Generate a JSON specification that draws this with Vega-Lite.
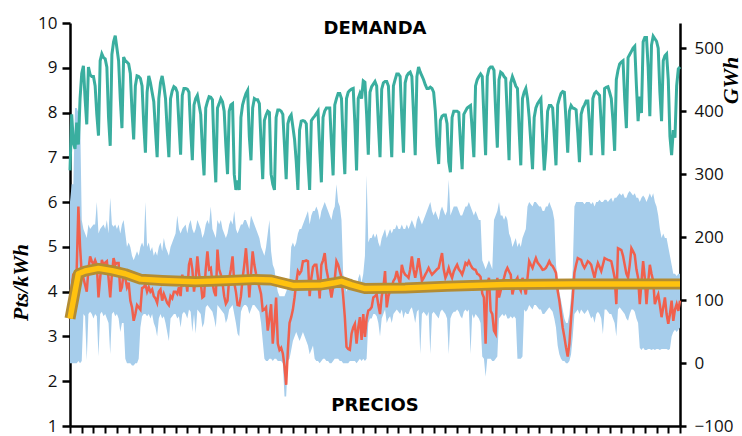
{
"$schema":"https://vega.github.io/schema/vega-lite/v6.json",
"width":610,"height":403,
"autosize":{"type":"none"},
"padding":{"left":70,"top":23,"right":62,"bottom":10},
"background":"white",
"config":{"view":{"stroke":null},"axis":{"grid":false}},
"datasets":{
"days":[
{"d":0,"g":306,"p":3.4,"l":2.4,"h":6.0},{"d":1,"g":395,"p":4.1,"l":2.4,"h":6.4},{"d":2,"g":350,"p":4.4,"l":2.4,"h":6.4},{"d":3,"g":340,"p":4.3,"l":2.4,"h":8.1},{"d":4,"g":382,"p":4.5,"l":2.4,"h":8.1},{"d":5,"g":347,"p":5.9,"l":2.45,"h":8.0},{"d":6,"g":420,"p":5.0,"l":2.4,"h":8.0},
{"d":7,"g":460,"p":4.4,"l":2.45,"h":5.6},{"d":8,"g":472,"p":4.3,"l":3.5,"h":5.4},{"d":9,"g":420,"p":4.15,"l":3.45,"h":5.3},{"d":10,"g":379,"p":4.0,"l":2.47,"h":5.2},
{"d":11,"g":470,"p":4.5,"l":3.5,"h":5.5},{"d":12,"g":458,"p":4.79,"l":3.55,"h":5.4},{"d":13,"g":455,"p":4.68,"l":3.5,"h":5.45},{"d":14,"g":455,"p":4.6,"l":3.4,"h":5.5},{"d":15,"g":440,"p":4.7,"l":3.5,"h":5.5},{"d":16,"g":395,"p":4.6,"l":3.45,"h":6.0},{"d":17,"g":361,"p":3.87,"l":2.55,"h":5.3},
{"d":18,"g":480,"p":4.3,"l":3.5,"h":5.4},{"d":19,"g":491,"p":4.71,"l":3.55,"h":5.45},{"d":20,"g":485,"p":4.6,"l":3.45,"h":5.5},{"d":21,"g":483,"p":4.65,"l":3.5,"h":5.4},{"d":22,"g":470,"p":4.68,"l":3.4,"h":5.6},{"d":23,"g":390,"p":4.3,"l":3.3,"h":5.3},{"d":24,"g":345,"p":3.87,"l":2.6,"h":6.1},
{"d":25,"g":490,"p":4.4,"l":3.5,"h":5.5},{"d":26,"g":510,"p":4.75,"l":3.55,"h":5.45},{"d":27,"g":520,"p":4.6,"l":3.45,"h":5.5},{"d":28,"g":500,"p":4.64,"l":3.5,"h":5.4},{"d":29,"g":480,"p":4.64,"l":3.4,"h":5.5},{"d":30,"g":420,"p":4.0,"l":3.1,"h":5.3},{"d":31,"g":373,"p":4.1,"l":3.3,"h":5.5},
{"d":32,"g":486,"p":4.42,"l":3.3,"h":5.6},{"d":33,"g":480,"p":4.3,"l":2.5,"h":5.3},{"d":34,"g":478,"p":4.1,"l":2.4,"h":5.0},{"d":35,"g":475,"p":4.2,"l":2.4,"h":5.1},{"d":36,"g":460,"p":3.8,"l":2.4,"h":5.0},{"d":37,"g":400,"p":3.65,"l":2.35,"h":4.8},{"d":38,"g":355,"p":3.35,"l":2.35,"h":4.7},
{"d":39,"g":440,"p":3.5,"l":2.4,"h":4.8},{"d":40,"g":456,"p":3.7,"l":2.4,"h":4.9},{"d":41,"g":455,"p":3.65,"l":2.5,"h":4.8},{"d":42,"g":452,"p":3.6,"l":3.2,"h":5.0},{"d":43,"g":440,"p":4.08,"l":3.45,"h":5.1},{"d":44,"g":380,"p":4.1,"l":3.5,"h":5.0},{"d":45,"g":334,"p":4.16,"l":3.5,"h":6.0},
{"d":46,"g":430,"p":4.0,"l":3.45,"h":5.0},{"d":47,"g":456,"p":4.1,"l":3.5,"h":5.1},{"d":48,"g":445,"p":4.0,"l":3.4,"h":4.9},{"d":49,"g":430,"p":4.05,"l":3.5,"h":5.0},{"d":50,"g":415,"p":3.9,"l":3.3,"h":4.8},{"d":51,"g":370,"p":3.85,"l":3.2,"h":4.9},{"d":52,"g":327,"p":3.75,"l":3.0,"h":4.8},
{"d":53,"g":420,"p":4.0,"l":3.4,"h":5.0},{"d":54,"g":445,"p":4.05,"l":3.5,"h":5.1},{"d":55,"g":456,"p":3.8,"l":3.4,"h":4.9},{"d":56,"g":440,"p":3.95,"l":3.45,"h":5.2},{"d":57,"g":420,"p":3.85,"l":3.3,"h":5.0},{"d":58,"g":370,"p":3.75,"l":3.1,"h":4.9},{"d":59,"g":327,"p":3.7,"l":2.9,"h":4.8},
{"d":60,"g":420,"p":3.9,"l":3.4,"h":5.0},{"d":61,"g":432,"p":3.85,"l":3.45,"h":5.1},{"d":62,"g":439,"p":4.0,"l":3.5,"h":5.2},{"d":63,"g":437,"p":4.0,"l":3.5,"h":5.3},{"d":64,"g":430,"p":3.95,"l":3.4,"h":5.7},{"d":65,"g":380,"p":4.1,"l":3.45,"h":5.4},{"d":66,"g":331,"p":3.9,"l":3.2,"h":5.3},
{"d":67,"g":425,"p":4.38,"l":3.5,"h":5.4},{"d":68,"g":436,"p":4.2,"l":3.55,"h":5.45},{"d":69,"g":436,"p":4.31,"l":3.5,"h":5.5},{"d":70,"g":435,"p":4.0,"l":3.4,"h":5.3},{"d":71,"g":430,"p":4.6,"l":3.6,"h":5.5},{"d":72,"g":370,"p":4.75,"l":3.55,"h":5.6},{"d":73,"g":322,"p":4.5,"l":3.1,"h":5.4},
{"d":74,"g":410,"p":4.0,"l":3.5,"h":5.3},{"d":75,"g":420,"p":4.3,"l":3.06,"h":5.4},{"d":76,"g":425,"p":4.79,"l":3.6,"h":5.6},{"d":77,"g":410,"p":4.4,"l":3.55,"h":5.5},{"d":78,"g":395,"p":4.2,"l":3.5,"h":5.4},{"d":79,"g":340,"p":3.87,"l":3.2,"h":5.2},{"d":80,"g":298,"p":3.9,"l":3.3,"h":5.3},
{"d":81,"g":405,"p":4.5,"l":3.65,"h":5.5},{"d":82,"g":415,"p":4.9,"l":3.7,"h":5.6},{"d":83,"g":423,"p":4.5,"l":3.65,"h":5.5},{"d":84,"g":422,"p":4.53,"l":3.6,"h":5.9},{"d":85,"g":418,"p":4.2,"l":3.55,"h":5.4},{"d":86,"g":340,"p":4.0,"l":3.4,"h":5.3},{"d":87,"g":287,"p":3.9,"l":3.2,"h":5.2},
{"d":88,"g":405,"p":4.94,"l":3.7,"h":5.6},{"d":89,"g":412,"p":4.5,"l":3.65,"h":5.5},{"d":90,"g":420,"p":4.38,"l":3.6,"h":5.6},{"d":91,"g":415,"p":4.2,"l":3.55,"h":5.4},{"d":92,"g":400,"p":3.9,"l":3.5,"h":5.3},{"d":93,"g":345,"p":3.73,"l":3.3,"h":5.2},{"d":94,"g":300,"p":3.8,"l":3.4,"h":5.3},
{"d":95,"g":400,"p":4.3,"l":3.6,"h":5.5},{"d":96,"g":410,"p":4.5,"l":3.65,"h":5.6},{"d":97,"g":412,"p":4.79,"l":3.7,"h":5.5},{"d":98,"g":300,"p":4.2,"l":3.5,"h":5.8},{"d":99,"g":275,"p":4.0,"l":3.3,"h":5.4},{"d":100,"g":290,"p":3.7,"l":3.06,"h":5.3},{"d":101,"g":275,"p":3.69,"l":3.0,"h":5.4},
{"d":102,"g":390,"p":3.9,"l":3.55,"h":5.5},{"d":103,"g":410,"p":4.3,"l":3.65,"h":5.5},{"d":104,"g":420,"p":4.6,"l":3.7,"h":5.6},{"d":105,"g":428,"p":4.97,"l":3.7,"h":5.6},{"d":106,"g":433,"p":4.5,"l":3.65,"h":5.5},{"d":107,"g":360,"p":3.87,"l":3.5,"h":5.4},{"d":108,"g":322,"p":4.4,"l":3.6,"h":5.7},
{"d":109,"g":405,"p":4.9,"l":3.7,"h":5.6},{"d":110,"g":420,"p":4.6,"l":3.7,"h":5.5},{"d":111,"g":418,"p":4.4,"l":3.65,"h":5.4},{"d":112,"g":418,"p":4.24,"l":3.6,"h":5.3},{"d":113,"g":412,"p":4.1,"l":3.55,"h":5.2},{"d":114,"g":350,"p":3.95,"l":3.3,"h":5.0},{"d":115,"g":292,"p":3.58,"l":2.9,"h":4.9},
{"d":116,"g":385,"p":3.6,"l":2.5,"h":4.8},{"d":117,"g":394,"p":3.65,"l":2.45,"h":5.0},{"d":118,"g":400,"p":3.13,"l":2.45,"h":5.3},{"d":119,"g":398,"p":3.4,"l":2.5,"h":5.6},{"d":120,"g":300,"p":3.72,"l":2.5,"h":4.9},{"d":121,"g":284,"p":2.84,"l":2.45,"h":4.6},{"d":122,"g":275,"p":3.3,"l":2.5,"h":4.5},
{"d":123,"g":390,"p":3.87,"l":2.5,"h":4.2},{"d":124,"g":402,"p":2.84,"l":2.45,"h":4.0},{"d":125,"g":402,"p":2.7,"l":2.45,"h":3.9},{"d":126,"g":400,"p":2.75,"l":2.45,"h":3.9},{"d":127,"g":395,"p":2.62,"l":2.4,"h":3.9},{"d":128,"g":345,"p":2.33,"l":1.66,"h":3.9},{"d":129,"g":292,"p":1.92,"l":1.66,"h":4.0},
{"d":130,"g":380,"p":2.7,"l":2.45,"h":4.1},{"d":131,"g":390,"p":3.3,"l":2.5,"h":4.3},{"d":132,"g":394,"p":3.43,"l":2.7,"h":5.0},{"d":133,"g":375,"p":3.6,"l":2.9,"h":5.1},{"d":134,"g":355,"p":3.87,"l":3.0,"h":5.0},{"d":135,"g":320,"p":4.2,"l":3.1,"h":5.1},{"d":136,"g":275,"p":4.46,"l":3.0,"h":5.3},
{"d":137,"g":370,"p":4.4,"l":2.9,"h":5.4},{"d":138,"g":384,"p":4.46,"l":3.0,"h":5.4},{"d":139,"g":385,"p":4.68,"l":3.1,"h":5.5},{"d":140,"g":384,"p":4.68,"l":3.0,"h":5.6},{"d":141,"g":380,"p":4.7,"l":2.9,"h":5.7},{"d":142,"g":320,"p":4.68,"l":2.8,"h":5.8},{"d":143,"g":275,"p":3.9,"l":2.6,"h":5.5},
{"d":144,"g":385,"p":4.3,"l":2.7,"h":5.7},{"d":145,"g":389,"p":4.55,"l":2.8,"h":5.8},{"d":146,"g":392,"p":4.6,"l":2.5,"h":5.8},{"d":147,"g":396,"p":4.6,"l":2.45,"h":5.9},{"d":148,"g":400,"p":4.3,"l":2.45,"h":5.8},{"d":149,"g":340,"p":3.85,"l":2.4,"h":5.6},{"d":150,"g":287,"p":4.6,"l":2.45,"h":5.8},
{"d":151,"g":390,"p":4.7,"l":2.5,"h":5.9},{"d":152,"g":400,"p":4.86,"l":2.5,"h":6.0},{"d":153,"g":405,"p":4.5,"l":2.45,"h":5.9},{"d":154,"g":405,"p":4.31,"l":2.45,"h":5.8},{"d":155,"g":405,"p":4.1,"l":2.4,"h":5.7},{"d":156,"g":350,"p":3.87,"l":2.4,"h":5.6},{"d":157,"g":298,"p":4.1,"l":2.45,"h":5.8},
{"d":158,"g":410,"p":4.28,"l":2.5,"h":5.9},{"d":159,"g":420,"p":4.68,"l":2.5,"h":6.4},{"d":160,"g":428,"p":4.6,"l":2.5,"h":6.0},{"d":161,"g":428,"p":4.46,"l":2.45,"h":5.9},{"d":162,"g":420,"p":4.31,"l":2.45,"h":5.6},{"d":163,"g":350,"p":3.9,"l":2.4,"h":4.4},{"d":164,"g":300,"p":3.43,"l":2.4,"h":4.2},
{"d":165,"g":420,"p":2.77,"l":2.4,"h":4.0},{"d":166,"g":430,"p":2.72,"l":2.4,"h":4.1},{"d":167,"g":433,"p":2.7,"l":2.45,"h":4.2},{"d":168,"g":435,"p":3.06,"l":2.45,"h":4.3},{"d":169,"g":436,"p":3.2,"l":2.45,"h":4.1},{"d":170,"g":380,"p":3.28,"l":2.45,"h":4.2},{"d":171,"g":306,"p":2.84,"l":2.4,"h":4.0},
{"d":172,"g":420,"p":3.2,"l":2.45,"h":4.3},{"d":173,"g":428,"p":3.43,"l":2.5,"h":4.4},{"d":174,"g":420,"p":2.92,"l":2.45,"h":4.2},{"d":175,"g":448,"p":3.5,"l":2.5,"h":4.4},{"d":176,"g":446,"p":2.99,"l":2.45,"h":4.8},{"d":177,"g":395,"p":3.4,"l":2.5,"h":6.6},{"d":178,"g":331,"p":3.58,"l":3.3,"h":5.1},
{"d":179,"g":430,"p":3.6,"l":3.4,"h":5.2},{"d":180,"g":439,"p":3.65,"l":3.4,"h":5.2},{"d":181,"g":443,"p":3.87,"l":3.5,"h":5.3},{"d":182,"g":447,"p":3.9,"l":3.5,"h":5.2},{"d":183,"g":440,"p":3.94,"l":3.45,"h":5.3},{"d":184,"g":380,"p":3.7,"l":3.3,"h":5.1},{"d":185,"g":327,"p":3.5,"l":3.0,"h":5.0},
{"d":186,"g":435,"p":3.9,"l":3.4,"h":5.2},{"d":187,"g":445,"p":4.09,"l":3.5,"h":5.3},{"d":188,"g":447,"p":4.46,"l":3.6,"h":5.4},{"d":189,"g":447,"p":3.65,"l":3.3,"h":5.2},{"d":190,"g":440,"p":3.9,"l":3.4,"h":5.3},{"d":191,"g":380,"p":4.02,"l":3.45,"h":5.4},{"d":192,"g":327,"p":4.1,"l":3.3,"h":5.3},
{"d":193,"g":440,"p":4.24,"l":3.5,"h":5.4},{"d":194,"g":450,"p":4.3,"l":3.55,"h":5.4},{"d":195,"g":459,"p":4.46,"l":3.6,"h":5.5},{"d":196,"g":459,"p":4.3,"l":3.55,"h":5.4},{"d":197,"g":455,"p":4.16,"l":3.5,"h":5.4},{"d":198,"g":390,"p":4.6,"l":3.6,"h":5.5},{"d":199,"g":334,"p":4.45,"l":3.4,"h":5.4},
{"d":200,"g":445,"p":4.38,"l":3.55,"h":5.4},{"d":201,"g":456,"p":4.35,"l":3.5,"h":5.5},{"d":202,"g":460,"p":4.31,"l":3.5,"h":5.4},{"d":203,"g":462,"p":4.5,"l":3.6,"h":5.5},{"d":204,"g":455,"p":4.79,"l":3.65,"h":5.6},{"d":205,"g":395,"p":4.5,"l":3.5,"h":5.5},{"d":206,"g":330,"p":4.31,"l":3.3,"h":5.4},
{"d":207,"g":455,"p":4.5,"l":3.55,"h":5.6},{"d":208,"g":470,"p":4.75,"l":3.6,"h":5.7},{"d":209,"g":462,"p":4.5,"l":2.6,"h":5.6},{"d":210,"g":456,"p":4.24,"l":3.5,"h":5.5},{"d":211,"g":450,"p":4.3,"l":3.55,"h":5.6},{"d":212,"g":442,"p":4.38,"l":3.5,"h":5.7},{"d":213,"g":436,"p":4.45,"l":3.45,"h":5.8},
{"d":214,"g":436,"p":4.53,"l":3.55,"h":5.9},{"d":215,"g":438,"p":4.45,"l":2.6,"h":6.0},{"d":216,"g":436,"p":4.38,"l":3.5,"h":5.8},{"d":217,"g":430,"p":4.42,"l":3.55,"h":5.7},{"d":218,"g":400,"p":4.46,"l":3.5,"h":5.8},{"d":219,"g":345,"p":4.5,"l":3.45,"h":5.7},{"d":220,"g":316,"p":4.53,"l":3.4,"h":5.6},
{"d":221,"g":385,"p":4.7,"l":3.55,"h":5.8},{"d":222,"g":392,"p":4.86,"l":3.6,"h":5.9},{"d":223,"g":394,"p":4.5,"l":3.55,"h":5.8},{"d":224,"g":394,"p":4.31,"l":3.5,"h":5.7},{"d":225,"g":380,"p":4.4,"l":3.4,"h":5.8},{"d":226,"g":320,"p":4.53,"l":2.6,"h":6.5},{"d":227,"g":303,"p":4.4,"l":3.4,"h":5.7},
{"d":228,"g":390,"p":4.31,"l":3.5,"h":5.8},{"d":229,"g":400,"p":4.45,"l":3.55,"h":5.9},{"d":230,"g":400,"p":4.53,"l":3.55,"h":5.9},{"d":231,"g":400,"p":4.6,"l":3.6,"h":5.9},{"d":232,"g":398,"p":4.5,"l":3.55,"h":5.8},{"d":233,"g":350,"p":4.45,"l":3.45,"h":5.7},{"d":234,"g":308,"p":4.38,"l":3.4,"h":5.7},
{"d":235,"g":395,"p":4.5,"l":3.55,"h":5.8},{"d":236,"g":400,"p":4.64,"l":3.6,"h":5.9},{"d":237,"g":405,"p":4.6,"l":3.55,"h":5.9},{"d":238,"g":407,"p":4.68,"l":3.6,"h":6.0},{"d":239,"g":409,"p":4.6,"l":2.6,"h":5.9},{"d":240,"g":370,"p":4.53,"l":3.5,"h":5.8},{"d":241,"g":327,"p":4.5,"l":3.4,"h":5.7},
{"d":242,"g":440,"p":4.49,"l":3.5,"h":5.8},{"d":243,"g":450,"p":4.4,"l":3.45,"h":5.7},{"d":244,"g":455,"p":4.38,"l":3.4,"h":5.6},{"d":245,"g":459,"p":4.33,"l":3.3,"h":5.6},{"d":246,"g":455,"p":3.96,"l":2.55,"h":4.7},{"d":247,"g":390,"p":3.87,"l":2.5,"h":4.6},{"d":248,"g":330,"p":2.84,"l":2.1,"h":4.5},
{"d":249,"g":455,"p":4.16,"l":2.5,"h":4.6},{"d":250,"g":467,"p":4.31,"l":2.5,"h":4.7},{"d":251,"g":470,"p":3.57,"l":2.5,"h":4.6},{"d":252,"g":470,"p":3.5,"l":2.45,"h":4.5},{"d":253,"g":465,"p":3.13,"l":2.45,"h":5.6},{"d":254,"g":400,"p":3.06,"l":2.5,"h":5.7},{"d":255,"g":342,"p":4.31,"l":2.55,"h":5.8},
{"d":256,"g":450,"p":3.87,"l":3.4,"h":6.0},{"d":257,"g":462,"p":4.02,"l":3.45,"h":5.7},{"d":258,"g":460,"p":4.2,"l":3.5,"h":5.7},{"d":259,"g":455,"p":4.31,"l":3.45,"h":5.6},{"d":260,"g":452,"p":4.45,"l":3.5,"h":5.7},{"d":261,"g":390,"p":4.53,"l":3.4,"h":5.6},{"d":262,"g":322,"p":4.45,"l":3.4,"h":5.3},
{"d":263,"g":445,"p":4.38,"l":3.45,"h":5.2},{"d":264,"g":455,"p":3.94,"l":3.4,"h":5.0},{"d":265,"g":448,"p":4.1,"l":3.45,"h":5.1},{"d":266,"g":440,"p":4.25,"l":3.4,"h":5.2},{"d":267,"g":436,"p":4.31,"l":2.5,"h":5.0},{"d":268,"g":370,"p":4.1,"l":2.5,"h":5.1},{"d":269,"g":314,"p":4.02,"l":2.5,"h":5.0},
{"d":270,"g":420,"p":4.31,"l":2.55,"h":5.2},{"d":271,"g":430,"p":4.1,"l":3.6,"h":5.3},{"d":272,"g":436,"p":3.94,"l":3.55,"h":5.4},{"d":273,"g":420,"p":4.3,"l":3.6,"h":5.9},{"d":274,"g":390,"p":4.68,"l":3.7,"h":6.0},{"d":275,"g":350,"p":4.6,"l":3.65,"h":5.95},{"d":276,"g":308,"p":4.53,"l":3.6,"h":5.9},
{"d":277,"g":390,"p":4.65,"l":3.7,"h":6.0},{"d":278,"g":405,"p":4.75,"l":3.7,"h":6.0},{"d":279,"g":412,"p":4.65,"l":3.65,"h":5.95},{"d":280,"g":416,"p":4.6,"l":3.6,"h":5.9},{"d":281,"g":420,"p":4.55,"l":3.6,"h":5.9},{"d":282,"g":360,"p":4.49,"l":3.5,"h":5.8},{"d":283,"g":306,"p":4.5,"l":3.5,"h":5.8},
{"d":284,"g":340,"p":4.53,"l":3.55,"h":5.9},{"d":285,"g":400,"p":4.6,"l":3.6,"h":5.9},{"d":286,"g":409,"p":4.68,"l":3.65,"h":6.0},{"d":287,"g":409,"p":4.6,"l":3.6,"h":5.9},{"d":288,"g":405,"p":4.57,"l":3.55,"h":5.8},{"d":289,"g":360,"p":4.5,"l":3.4,"h":5.6},{"d":290,"g":314,"p":4.42,"l":3.2,"h":4.6},
{"d":291,"g":410,"p":4.02,"l":2.8,"h":4.3},{"d":292,"g":420,"p":3.8,"l":2.6,"h":4.0},{"d":293,"g":428,"p":3.5,"l":2.5,"h":3.8},{"d":294,"g":431,"p":3.2,"l":2.45,"h":3.6},{"d":295,"g":430,"p":2.99,"l":2.45,"h":3.4},{"d":296,"g":385,"p":2.75,"l":2.4,"h":3.3},{"d":297,"g":334,"p":2.55,"l":2.4,"h":3.3},
{"d":298,"g":400,"p":2.84,"l":2.45,"h":3.5},{"d":299,"g":409,"p":3.4,"l":2.6,"h":3.9},{"d":300,"g":405,"p":3.87,"l":3.0,"h":4.5},{"d":301,"g":404,"p":4.42,"l":3.5,"h":5.9},{"d":302,"g":402,"p":4.6,"l":3.55,"h":6.0},{"d":303,"g":365,"p":4.75,"l":3.6,"h":6.0},{"d":304,"g":319,"p":4.73,"l":3.5,"h":6.0},
{"d":305,"g":395,"p":4.71,"l":3.6,"h":6.0},{"d":306,"g":405,"p":4.6,"l":3.55,"h":6.0},{"d":307,"g":410,"p":4.53,"l":3.5,"h":5.95},{"d":308,"g":416,"p":4.6,"l":3.55,"h":6.0},{"d":309,"g":416,"p":4.68,"l":3.6,"h":6.0},{"d":310,"g":380,"p":4.65,"l":3.5,"h":6.0},{"d":311,"g":330,"p":4.6,"l":3.4,"h":5.95},
{"d":312,"g":420,"p":4.45,"l":3.45,"h":6.0},{"d":313,"g":428,"p":4.31,"l":3.3,"h":5.9},{"d":314,"g":431,"p":4.5,"l":3.5,"h":6.0},{"d":315,"g":428,"p":4.64,"l":3.55,"h":6.0},{"d":316,"g":425,"p":4.55,"l":3.5,"h":6.05},{"d":317,"g":380,"p":4.46,"l":3.4,"h":6.0},{"d":318,"g":330,"p":4.6,"l":3.05,"h":6.0},
{"d":319,"g":436,"p":4.75,"l":3.6,"h":6.05},{"d":320,"g":438,"p":4.73,"l":3.6,"h":6.05},{"d":321,"g":439,"p":4.71,"l":3.55,"h":6.0},{"d":322,"g":430,"p":4.7,"l":3.5,"h":6.05},{"d":323,"g":420,"p":4.68,"l":3.5,"h":6.1},{"d":324,"g":385,"p":4.5,"l":3.4,"h":6.0},{"d":325,"g":337,"p":4.31,"l":3.3,"h":6.1},
{"d":326,"g":450,"p":3.72,"l":3.0,"h":6.1},{"d":327,"g":465,"p":4.97,"l":3.6,"h":6.15},{"d":328,"g":475,"p":4.95,"l":3.65,"h":6.2},{"d":329,"g":478,"p":4.93,"l":3.6,"h":6.15},{"d":330,"g":480,"p":4.8,"l":3.55,"h":6.2},{"d":331,"g":420,"p":4.6,"l":3.5,"h":6.1},{"d":332,"g":373,"p":4.4,"l":3.4,"h":6.1},
{"d":333,"g":485,"p":4.31,"l":3.35,"h":6.2},{"d":334,"g":490,"p":4.6,"l":3.5,"h":6.25},{"d":335,"g":495,"p":4.97,"l":3.6,"h":6.2},{"d":336,"g":500,"p":4.9,"l":3.6,"h":6.15},{"d":337,"g":503,"p":4.82,"l":3.55,"h":6.2},{"d":338,"g":440,"p":4.5,"l":3.4,"h":6.1},{"d":339,"g":384,"p":4.31,"l":3.3,"h":6.1},
{"d":340,"g":423,"p":3.72,"l":2.75,"h":6.0},{"d":341,"g":397,"p":4.2,"l":2.7,"h":6.1},{"d":342,"g":510,"p":4.68,"l":2.75,"h":6.15},{"d":343,"g":517,"p":4.31,"l":2.7,"h":6.1},{"d":344,"g":517,"p":3.72,"l":2.7,"h":6.0},{"d":345,"g":470,"p":4.2,"l":2.72,"h":6.1},{"d":346,"g":392,"p":4.6,"l":2.72,"h":6.2},
{"d":347,"g":505,"p":4.4,"l":2.7,"h":6.1},{"d":348,"g":519,"p":4.24,"l":2.72,"h":6.2},{"d":349,"g":515,"p":3.72,"l":2.7,"h":6.0},{"d":350,"g":511,"p":3.85,"l":2.72,"h":5.9},{"d":351,"g":500,"p":3.94,"l":2.72,"h":5.7},{"d":352,"g":430,"p":3.7,"l":2.7,"h":5.4},{"d":353,"g":384,"p":3.43,"l":2.72,"h":5.2},
{"d":354,"g":480,"p":3.65,"l":2.72,"h":5.3},{"d":355,"g":488,"p":3.87,"l":2.72,"h":5.2},{"d":356,"g":491,"p":3.5,"l":2.72,"h":5.2},{"d":357,"g":450,"p":3.28,"l":2.7,"h":5.0},{"d":358,"g":360,"p":3.5,"l":2.72,"h":4.8},{"d":359,"g":330,"p":3.8,"l":3.0,"h":4.6},{"d":360,"g":370,"p":3.35,"l":3.1,"h":4.4},
{"d":361,"g":358,"p":3.6,"l":3.15,"h":4.4},{"d":362,"g":440,"p":3.72,"l":3.1,"h":4.35},{"d":363,"g":467,"p":3.57,"l":3.15,"h":4.4},{"d":364,"g":470,"p":3.8,"l":3.2,"h":4.4}
],
"avg":[
{"d":0,"p":3.4},{"d":2,"p":3.8},{"d":5,"p":4.4},{"d":9,"p":4.46},{"d":17,"p":4.52},{"d":25,"p":4.47},{"d":33,"p":4.4},{"d":42,"p":4.28},{"d":55,"p":4.25},{"d":75,"p":4.22},{"d":95,"p":4.25},{"d":110,"p":4.27},{"d":120,"p":4.26},{"d":133,"p":4.14},{"d":150,"p":4.15},{"d":158,"p":4.2},{"d":162,"p":4.23},{"d":168,"p":4.15},{"d":176,"p":4.07},{"d":200,"p":4.08},{"d":225,"p":4.12},{"d":260,"p":4.16},{"d":300,"p":4.17},{"d":364,"p":4.17}
],
"labP":[{"d":182,"p":1.44,"t":"PRECIOS"}],
"labD":[{"d":182,"g":531,"t":"DEMANDA"}]
},
"layer":[
{"layer":[
{"data":{"name":"days"},"mark":{"type":"area","color":"#A6CDEB","opacity":1},
"encoding":{
"x":{"field":"d","type":"quantitative","scale":{"domain":[0,364],"nice":false,"zero":false},
"axis":{"values":[0,7,14,21,28,35,42,49,56,63,70,77,84,91,98,105,112,119,126,133,140,147,154,161,168,175,182,189,196,203,210,217,224,231,238,245,252,259,266,273,280,287,294,301,308,315,322,329,336,343,350,357,364],"tickCount":60,"labels":false,"title":null,"tickSize":7,"tickColor":"#000","tickWidth":2,"domainColor":"#000","domainWidth":2.5,"grid":false}},
"y":{"field":"l","type":"quantitative","scale":{"domain":[1,10],"nice":false,"zero":false},
"axis":{"orient":"left","values":[1,2,3,4,5,6,7,8,9,10],"tickCount":10,"tickSize":8,"tickColor":"#000","tickWidth":2.5,"domainColor":"#000","domainWidth":2.5,"labelFont":"Open Sans","labelFontSize":17,"labelColor":"#111","labelPadding":5,"grid":false,
"title":"Pts/kWh","titleFont":"Liberation Serif","titleFontStyle":"italic","titleFontWeight":"bold","titleFontSize":22,"titleColor":"#000","titleAngle":-90,"titleAlign":"center","titleBaseline":"middle","titleX":-50,"titleY":259}},
"y2":{"field":"h"}}},
{"data":{"name":"days"},"mark":{"type":"line","color":"#F0604D","strokeWidth":2.5},
"encoding":{"x":{"field":"d","type":"quantitative","scale":{"domain":[0,364],"nice":false,"zero":false}},
"y":{"field":"p","type":"quantitative","scale":{"domain":[1,10],"nice":false,"zero":false}}}},
{"data":{"name":"avg"},"mark":{"type":"line","color":"#B38C33","strokeWidth":11,"strokeCap":"butt","strokeJoin":"round"},
"encoding":{"x":{"field":"d","type":"quantitative","scale":{"domain":[0,364],"nice":false,"zero":false}},
"y":{"field":"p","type":"quantitative","scale":{"domain":[1,10],"nice":false,"zero":false}}}},
{"data":{"name":"avg"},"mark":{"type":"line","color":"#FFC20F","strokeWidth":5.5,"strokeCap":"butt","strokeJoin":"round"},
"encoding":{"x":{"field":"d","type":"quantitative","scale":{"domain":[0,364],"nice":false,"zero":false}},
"y":{"field":"p","type":"quantitative","scale":{"domain":[1,10],"nice":false,"zero":false}}}},
{"data":{"name":"labP"},"mark":{"type":"text","font":"DejaVu Sans","fontWeight":"bold","fontSize":18,"color":"#000","align":"center","baseline":"middle"},
"encoding":{"x":{"field":"d","type":"quantitative","scale":{"domain":[0,364],"nice":false,"zero":false}},
"y":{"field":"p","type":"quantitative","scale":{"domain":[1,10],"nice":false,"zero":false}},"text":{"field":"t"}}}
]},
{"layer":[
{"data":{"name":"days"},"mark":{"type":"line","color":"#3AAE9F","strokeWidth":3},
"encoding":{"x":{"field":"d","type":"quantitative","scale":{"domain":[0,364],"nice":false,"zero":false}},
"y":{"field":"g","type":"quantitative","scale":{"domain":[-100,540],"nice":false,"zero":false},
"axis":{"orient":"right","values":[-100,0,100,200,300,400,500],"tickCount":7,"tickSize":6,"tickColor":"#000","tickWidth":2.5,"domainColor":"#000","domainWidth":2.5,"labelFont":"Open Sans","labelFontSize":17,"labelColor":"#111","labelPadding":8,"grid":false,
"title":"GWh","titleFont":"Liberation Serif","titleFontStyle":"italic","titleFontWeight":"bold","titleFontSize":22,"titleColor":"#000","titleAngle":-90,"titleAlign":"center","titleBaseline":"middle","titleX":50,"titleY":57}}}},
{"data":{"name":"labD"},"mark":{"type":"text","font":"DejaVu Sans","fontWeight":"bold","fontSize":18,"color":"#000","align":"center","baseline":"middle"},
"encoding":{"x":{"field":"d","type":"quantitative","scale":{"domain":[0,364],"nice":false,"zero":false}},
"y":{"field":"g","type":"quantitative","scale":{"domain":[-100,540],"nice":false,"zero":false}},"text":{"field":"t"}}}
]}
],
"resolve":{"scale":{"y":"independent"}}
}
